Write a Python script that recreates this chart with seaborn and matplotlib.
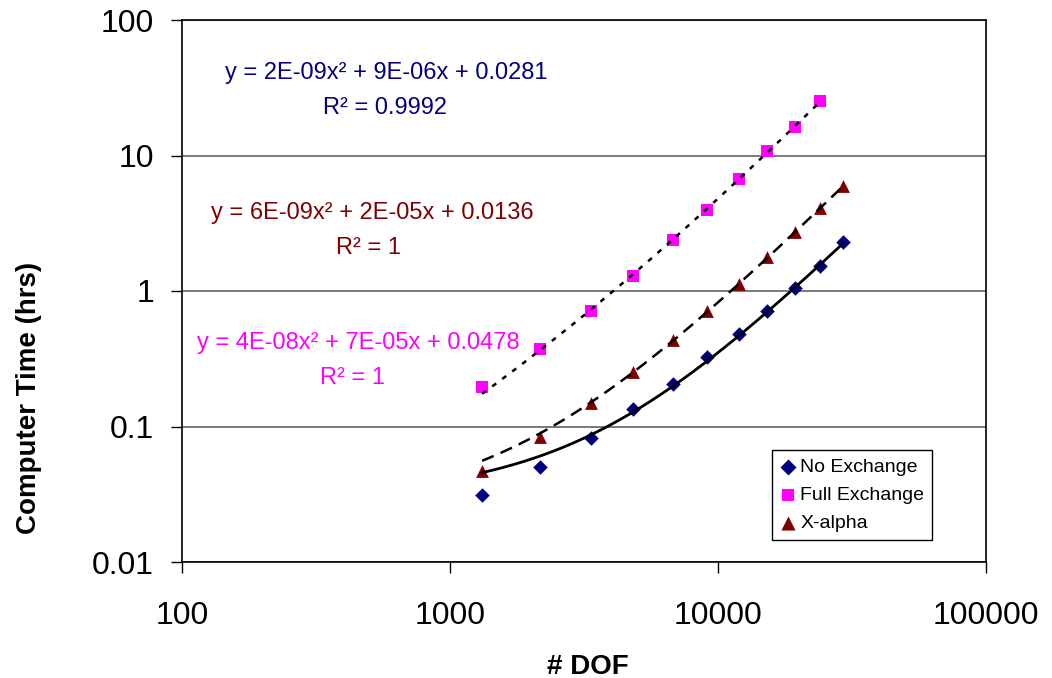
import numpy as np
import pandas as pd
import matplotlib
matplotlib.use("Agg")
import matplotlib.pyplot as plt
import matplotlib.ticker as mticker
import seaborn as sns

# ---- data ----
dof = [1318, 2168, 3357, 4810, 6775, 9070, 11930, 15300, 19450, 24100, 29330]
no_exchange = [0.0314, 0.0499, 0.0818, 0.134, 0.206, 0.327, 0.484, 0.717, 1.044, 1.52, 2.29]
full_exchange = [0.196, 0.374, 0.717, 1.30, 2.37, 3.96, 6.72, 10.8, 16.3, 25.1]
x_alpha = [0.0473, 0.0832, 0.149, 0.253, 0.437, 0.717, 1.12, 1.77, 2.72, 4.10, 5.97]

series_names = ["No Exchange", "Full Exchange", "X-alpha"]
x_ticks = [100, 1000, 10000, 100000]
x_tick_labels = ["100", "1000", "10000", "100000"]
y_ticks = [0.01, 0.1, 1, 10, 100]
y_tick_labels = ["0.01", "0.1", "1", "10", "100"]
eq_no = ["y = 2E-09x² + 9E-06x + 0.0281", "R² = 0.9992"]
eq_xa = ["y = 6E-09x² + 2E-05x + 0.0136", "R² = 1"]
eq_fe = ["y = 4E-08x² + 7E-05x + 0.0478", "R² = 1"]

# ---- style ----
sns.set_style("white")
plt.rcParams["font.family"] = ["Liberation Sans", "DejaVu Sans"]
plt.rcParams["text.color"] = "black"
plt.rcParams["axes.labelcolor"] = "black"

W, H = 1052, 678
fig = plt.figure(figsize=(W / 100, H / 100), dpi=100)
ax = fig.add_axes([182 / W, 1 - 562 / H, 804 / W, 542 / H])

col_no = "#000080"
col_fe = "#FF00FF"
col_xa = "#800000"

df_no = pd.DataFrame({"dof": dof, "time": no_exchange})
df_fe = pd.DataFrame({"dof": dof[:len(full_exchange)], "time": full_exchange})
df_xa = pd.DataFrame({"dof": dof, "time": x_alpha})

# polynomial (order 2) trendlines fitted to each series
def trend(df, n=300):
    c = np.polyfit(df["dof"], df["time"], 2)
    xs = np.geomspace(df["dof"].min(), df["dof"].max(), n)
    return pd.DataFrame({"dof": xs, "time": np.polyval(c, xs)})

t_no = trend(df_no)
t_fe = trend(df_fe)
t_xa = trend(df_xa)

sns.lineplot(data=t_no, x="dof", y="time", ax=ax, color="black", lw=2.0,
             sort=False, estimator=None, zorder=3)
sns.lineplot(data=t_xa, x="dof", y="time", ax=ax, color="black", lw=1.8,
             sort=False, estimator=None, linestyle=(0, (5, 3)), zorder=3)
sns.lineplot(data=t_fe, x="dof", y="time", ax=ax, color="black", lw=1.8,
             sort=False, estimator=None, linestyle=(0, (2, 3)), zorder=3)

sns.scatterplot(data=df_no, x="dof", y="time", ax=ax, marker="D", s=55,
                color=col_no, edgecolor=col_no, linewidth=0, label=series_names[0], zorder=2)
sns.scatterplot(data=df_fe, x="dof", y="time", ax=ax, marker="s", s=70,
                color=col_fe, edgecolor=col_fe, linewidth=0, label=series_names[1], zorder=2)
sns.scatterplot(data=df_xa, x="dof", y="time", ax=ax, marker="^", s=85,
                color=col_xa, edgecolor=col_xa, linewidth=0, label=series_names[2], zorder=2)

ax.set_xscale("log")
ax.set_yscale("log")
ax.set_xlim(100, 100000)
ax.set_ylim(0.01, 100)
ax.xaxis.set_major_locator(mticker.FixedLocator(x_ticks))
ax.xaxis.set_major_formatter(mticker.FixedFormatter(x_tick_labels))
ax.yaxis.set_major_locator(mticker.FixedLocator(y_ticks))
ax.yaxis.set_major_formatter(mticker.FixedFormatter(y_tick_labels))
ax.xaxis.set_minor_locator(mticker.NullLocator())
ax.yaxis.set_minor_locator(mticker.NullLocator())

ax.tick_params(axis="both", which="major", direction="out", length=8, width=1,
               color="black", labelsize=23, labelcolor="black", bottom=True, left=True)
ax.tick_params(axis="x", pad=20)
ax.tick_params(axis="y", pad=12)

ax.grid(axis="y", which="major", color="#555555", lw=1.1)
ax.grid(axis="x", visible=False)
for s in ax.spines.values():
    s.set_visible(True)
    s.set_color("black")
    s.set_linewidth(1.2)

ax.set_xlabel("# DOF", fontsize=20, fontweight="bold", color="black")
ax.set_ylabel("Computer Time (hrs)", fontsize=20, fontweight="bold", color="black")
ax.xaxis.set_label_coords((588 - 182) / 804, (562 - 654) / 542)
ax.yaxis.set_label_coords((42 - 182) / 804, (562 - 398) / 542)

leg = ax.legend(loc="lower left", bbox_to_anchor=((772 - 182) / 804, (562 - 540) / 542),
                borderaxespad=0, frameon=True, fancybox=False, framealpha=1,
                edgecolor="black", fontsize=14, handletextpad=0.25, borderpad=0.4,
                labelspacing=0.55, handlelength=0.8, markerscale=1.1)
leg.get_frame().set_linewidth(1.0)
for t in leg.get_texts():
    t.set_color("black")

def ftext(px, py, s, color):
    fig.text(px / W, 1 - py / H, s, color=color, fontsize=17, ha="center", va="center")

ftext(386, 73, eq_no[0], col_no)
ftext(385, 108, eq_no[1], col_no)
ftext(372, 213, eq_xa[0], col_xa)
ftext(368, 248, eq_xa[1], col_xa)
ftext(358, 343, eq_fe[0], col_fe)
ftext(353, 378, eq_fe[1], col_fe)

fig.savefig("out.png", dpi=100)
